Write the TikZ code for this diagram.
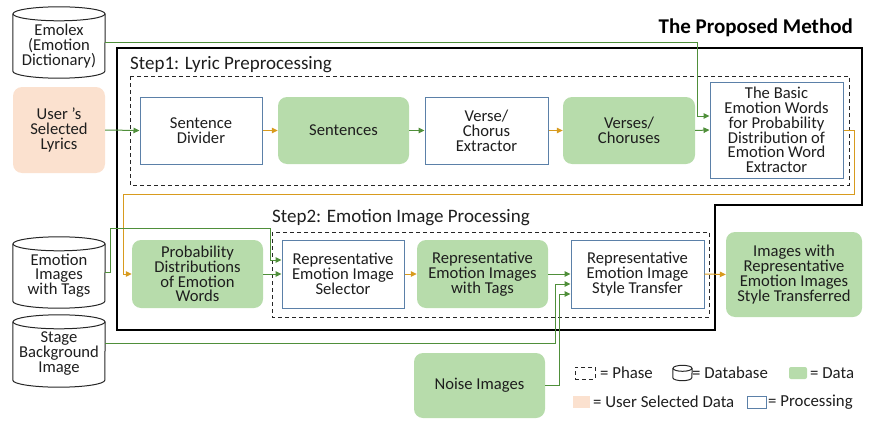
\documentclass[tikz,border=0pt]{standalone}
\usepackage{fontspec}
\setmainfont{Carlito}
\usetikzlibrary{arrows.meta}

\definecolor{datafill}{HTML}{B7DCAB}
\definecolor{userfill}{HTML}{FBE1CF}
\definecolor{procblue}{HTML}{5B80A8}
\definecolor{flowgreen}{HTML}{4F8F3A}
\definecolor{floworange}{HTML}{D89B1E}
\definecolor{ink}{HTML}{1E1E1E}

\tikzset{
  base/.style={align=center, text=ink, font=\fontsize{16.6}{14.8}\selectfont, inner sep=0pt},
  proc/.style={base, draw=procblue, line width=1pt, fill=white},
  data/.style={base, fill=datafill, rounded corners=9pt},
  user/.style={base, fill=userfill, rounded corners=9pt},
  dbnode/.style={inner sep=0pt},
  tip/.style={-{Triangle[length=6pt,width=5.5pt]}},
  gflow/.style={draw=flowgreen, line width=1pt, tip},
  oflow/.style={draw=floworange, line width=1pt, tip},
  phase/.style={draw=black!85, line width=1pt, dash pattern=on 4pt off 3pt},
  steplabel/.style={anchor=south west, inner sep=0pt, text=ink, font=\fontsize{19}{19}\selectfont},
  legendtxt/.style={anchor=west, inner sep=0pt, text=ink, font=\fontsize{16.8}{16.8}\selectfont},
}

% cylinder outline drawn round a named node: #1 node, #2 x radius, #3 y radius
\newcommand\dbshape[3]{%
  \draw[line width=1pt, black!85]
    ([yshift=-#3]#1.north west) -- ([yshift=#3]#1.south west)
    arc[start angle=180, end angle=360, x radius=#2, y radius=#3]
    -- ([yshift=-#3]#1.north east);
  \draw[line width=1pt, black!85] ([yshift=-#3]#1.north) ellipse[x radius=#2, y radius=#3];
}

\begin{document}
\begin{tikzpicture}[x=1pt, y=-1pt]
\useasboundingbox (0,0) rectangle (872,420);

% title and method frame
\node[anchor=south east, inner sep=0pt, text=black, font=\bfseries\fontsize{21}{21}\selectfont] (title) at (853,37) {The Proposed Method};
\draw[line width=2pt] (117,48) -- (862,48) -- (862,205) -- (715,205) -- (715,330) -- (117,330) -- cycle;

% phases
\draw[phase] (130,76) rectangle (849,185);
\node[steplabel] (step1) at (130,73) {Step1: Lyric Preprocessing};
\draw[phase] (272,232) rectangle (709,317);
\node[steplabel] (step2) at (272,226) {Step2: Emotion Image Processing};

% databases
\node[dbnode, minimum width=92pt, minimum height=71pt] (emolex) at (59,42.5) {};
\dbshape{emolex}{46pt}{7pt}
\node[base] (emolextxt) at ([yshift=-3.5pt]emolex.center) {Emolex\\(Emotion\\Dictionary)};
\node[dbnode, minimum width=92pt, minimum height=71pt] (eimg) at (59,272.5) {};
\dbshape{eimg}{46pt}{7pt}
\node[base] (eimgtxt) at ([yshift=-3pt]eimg.center) {Emotion\\Images\\with Tags};
\node[dbnode, minimum width=92pt, minimum height=72pt] (stage) at (59,351) {};
\dbshape{stage}{46pt}{7pt}
\node[base] (stagetxt) at ([yshift=-2.5pt]stage.center) {Stage\\Background\\Image};

% step 1
\node[user, minimum width=92pt, minimum height=86pt] (lyrics) at (59,130) {User ’s\\Selected\\Lyrics};
\node[proc, minimum width=122pt, minimum height=67pt] (divider) at (201,130.5) {Sentence\\Divider};
\node[data, minimum width=131pt, minimum height=67pt] (sentences) at (343.5,130.5) {Sentences};
\node[proc, minimum width=123pt, minimum height=67pt] (verse) at (486.5,130.5) {Verse/\\Chorus\\Extractor};
\node[data, minimum width=132pt, minimum height=67pt] (verses) at (629,130.5) {Verses/\\Choruses};
\node[proc, minimum width=133pt, minimum height=96pt] (basic) at (776.5,130) {The Basic\\Emotion Words\\for Probability\\Distribution of\\Emotion Word\\Extractor};

% step 2
\node[data, minimum width=131pt, minimum height=68pt] (prob) at (197.5,274) {Probability\\Distributions\\of Emotion\\Words};
\node[proc, minimum width=122pt, minimum height=68pt] (selector) at (343,274) {Representative\\Emotion Image\\Selector};
\node[data, minimum width=131pt, minimum height=68pt] (tags) at (482.5,274) {Representative\\Emotion Images\\with Tags};
\node[proc, minimum width=133pt, minimum height=68pt] (style) at (637.5,274) {Representative\\Emotion Image\\Style Transfer};
\node[data, minimum width=136pt, minimum height=85pt] (result) at (794,274.5) {Images with\\Representative\\Emotion Images\\Style Transferred};
\node[data, minimum width=131pt, minimum height=65pt] (noise) at (479.5,385.5) {Noise Images};

% connectors of step 1
\draw[gflow] (lyrics.east) -- (divider.west);
\draw[oflow] (divider.east) -- (sentences.west);
\draw[gflow] (sentences.east) -- (verse.west);
\draw[oflow] (verse.east) -- (verses.west);
\draw[gflow] (verses.east) -- (basic.west);
\coordinate (lexbend) at (697,43);
\draw[gflow] (emolex.east |- lexbend) -- (lexbend) |- ([yshift=14pt]basic.west);

% basic words feed the probability distributions
\coordinate (ob1) at (854,130);
\coordinate (ob2) at (854,194);
\coordinate (ob3) at (123,194);
\draw[oflow] (basic.east) -- (ob1) -- (ob2) -- (ob3) |- (prob.west);

% connectors of step 2
\coordinate (eb1) at (110,272);
\coordinate (eb2) at (110,228);
\coordinate (eb3) at (270,228);
\draw[gflow] (eimg.east |- eb1) -- (eb1) -- (eb2) -- (eb3) |- ([yshift=14pt]selector.west);
\draw[gflow] (prob.east) -- (selector.west);
\draw[oflow] (selector.east) -- (tags.west);
\draw[gflow] (tags.east) -- (style.west);
\coordinate (sb) at (555,343);
\draw[gflow] (stage.east |- sb) -- (sb) |- ([yshift=-10pt]style.west);
\coordinate (nb) at (559,385.5);
\draw[gflow] (noise.east) -- (nb) |- ([yshift=-20pt]style.west);
\draw[oflow] (style.east) -- (result.west);

% legend
\node[phase, minimum width=20pt, minimum height=12pt, inner sep=0pt] (lgphase) at (585,373) {};
\node[legendtxt] (lgphasetxt) at (600,373) {= Phase};
\node[minimum width=19pt, minimum height=15pt, inner sep=0pt] (lgdb) at (682.5,373) {};
\dbshape{lgdb}{9.5pt}{3pt}
\node[legendtxt] (lgdbtxt) at (692,373) {= Database};
\node[fill=datafill, rounded corners=2pt, minimum width=18pt, minimum height=12pt, inner sep=0pt] (lgdata) at (798,373) {};
\node[legendtxt] (lgdatatxt) at (810,373) {= Data};
\node[fill=userfill, minimum width=17pt, minimum height=12pt, inner sep=0pt] (lguser) at (581.5,402) {};
\node[legendtxt] (lgusertxt) at (593,402) {= User Selected Data};
\node[draw=procblue, line width=1pt, minimum width=19pt, minimum height=12pt, inner sep=0pt] (lgproc) at (757,402) {};
\node[legendtxt] (lgproctxt) at (768,402) {= Processing};
\end{tikzpicture}
\end{document}
